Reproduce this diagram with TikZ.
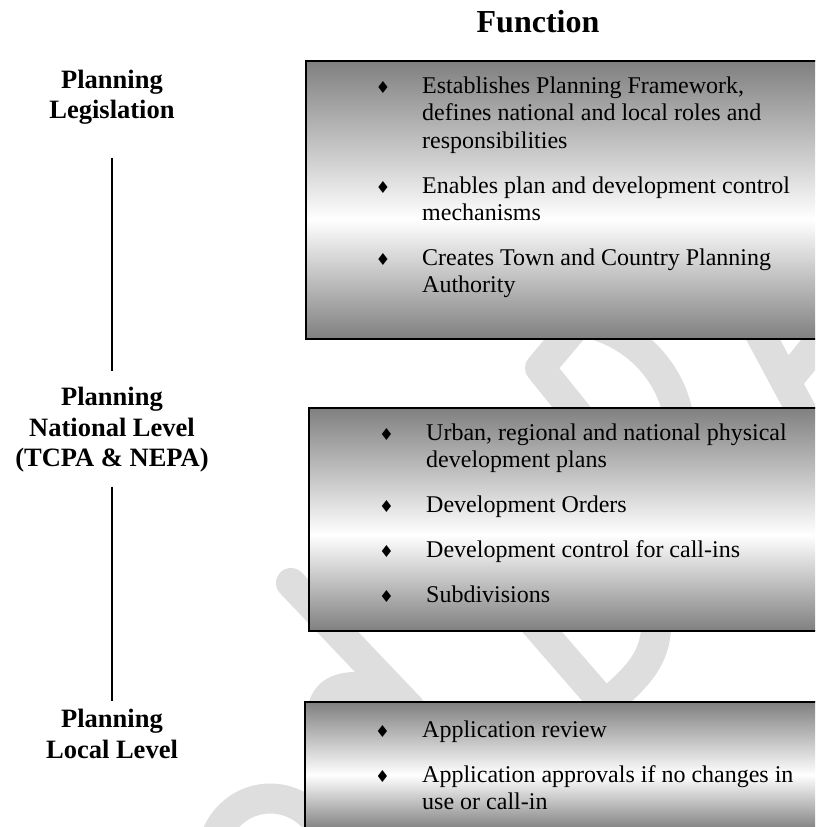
\documentclass[tikz,border=0pt]{standalone}
\usepackage{fontspec}
\setmainfont{Liberation Serif}
\newfontfamily\symfont{DejaVu Sans}
\definecolor{boxgray}{gray}{0.5}
\definecolor{wmgray}{gray}{0.87}
% vertical gradient: grey at top and bottom, white a little below the middle
\pgfdeclareverticalshading{fnshade}{100bp}{color(0bp)=(boxgray); color(25bp)=(boxgray); color(46.5bp)=(white); color(75bp)=(boxgray); color(100bp)=(boxgray)}
% lines of one bullet item, first baseline is the box baseline
\newcommand\fnstack[1]{\vtop{\halign{##\hfil\cr#1\crcr}}}

\begin{document}
\begin{tikzpicture}[x=1pt,y=-1pt,
  fnbox/.style={draw=black, line width=1.8pt, shade, shading=fnshade, anchor=north west,
    inner sep=0pt, minimum width=540pt},
  level/.style={font=\bfseries\fontsize{26.5}{30.5}\selectfont, align=center, inner sep=0pt},
  itemtext/.style={font=\fontsize{24}{27.6}\selectfont, anchor=base west, inner sep=0pt},
  bullet/.style={font=\symfont\fontsize{16.5}{16.5}\selectfont, inner sep=0pt},
  link/.style={line width=1.2pt},
  wmark/.style={draw=wmgray, line width=30pt, line cap=round, line join=round}]
\useasboundingbox (0,0) rectangle (815,827);
\clip (0,0) rectangle (815,827);

% faint watermark strokes, partly hidden behind the boxes
\draw[wmark] (572,330) -- (540,368) -- (577,414);
\draw[wmark] (585,322) .. controls (640,335) and (670,375) .. (678,414);
\draw[wmark] (758,330) -- (803,414);
\draw[wmark] (786,382) -- (835,322);
\draw[wmark] (291,583) -- (410,708);
\draw[wmark] (322,714) .. controls (324,690) and (342,684) .. (374,688);
\draw[wmark] (530,618) -- (603,702);
\draw[wmark] (656,618) .. controls (658,656) and (640,675) .. (606,704);
\draw[wmark] (214,842) .. controls (228,796) and (282,784) .. (314,818);

% heading
\node[font=\bfseries\fontsize{32}{36}\selectfont, inner sep=0pt] (fn) at (538,22) {Function};

% planning levels
\node[level] (leg) at (112,97) {Planning\\Legislation};
\node[level] (nat) at (112,430) {Planning\\National Level\\(TCPA \& NEPA)};
\node[level] (loc) at (112,734) {Planning\\Local Level};
\draw[link] ([yshift=-33pt]leg.south) -- ([yshift=16pt]nat.north);
\draw[link] ([yshift=-14pt]nat.south) -- ([yshift=8pt]loc.north);

% function boxes
\node[fnbox, minimum height=278pt] (b1) at (305,60) {};
\node[fnbox, minimum height=223pt] (b2) at (308,407) {};
\node[fnbox, minimum height=128pt] (b3) at (304,701) {};

% legislation
\node[bullet] (k11) at (383,87.5) {♦};
\node[itemtext] (i11) at (422,93) {\fnstack{Establishes Planning Framework,\cr defines national and local roles and\cr responsibilities}};
\node[bullet] (k12) at (383,187.5) {♦};
\node[itemtext] (i12) at (422,193) {\fnstack{Enables plan and development control\cr mechanisms}};
\node[bullet] (k13) at (383,259.5) {♦};
\node[itemtext] (i13) at (422,265) {\fnstack{Creates Town and Country Planning\cr Authority}};

% national level
\node[bullet] (k21) at (386.5,434.5) {♦};
\node[itemtext] (i21) at (426,440) {\fnstack{Urban, regional and national physical\cr development plans}};
\node[bullet] (k22) at (386.5,506.5) {♦};
\node[itemtext] (i22) at (426,512) {\fnstack{Development Orders}};
\node[bullet] (k23) at (386.5,551.5) {♦};
\node[itemtext] (i23) at (426,557) {\fnstack{Development control for call-ins}};
\node[bullet] (k24) at (386.5,596.5) {♦};
\node[itemtext] (i24) at (426,602) {\fnstack{Subdivisions}};

% local level
\node[bullet] (k31) at (382.5,731.5) {♦};
\node[itemtext] (i31) at (422,737) {\fnstack{Application review}};
\node[bullet] (k32) at (382.5,776.5) {♦};
\node[itemtext] (i32) at (422,782) {\fnstack{Application approvals if no changes in\cr use or call-in}};
\end{tikzpicture}
\end{document}
